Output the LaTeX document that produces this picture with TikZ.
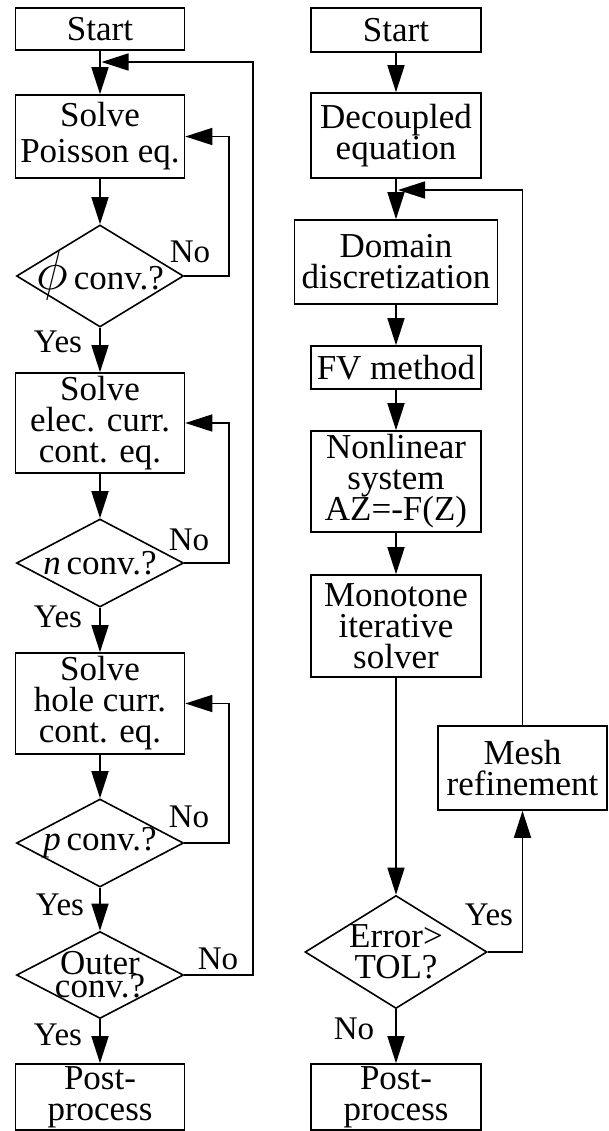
\documentclass[tikz,border=0pt]{standalone}
\usepackage{fontspec}
\setmainfont{Liberation Serif}
\usepackage{tikz}
\usetikzlibrary{arrows.meta,shapes.geometric}
\lineskiplimit=-40pt

\begin{document}
\begin{tikzpicture}[x=1pt,y=-1pt,
 box/.style={rectangle,draw,line width=1.6pt,inner sep=0pt,align=center,font=\fontsize{35}{31}\selectfont},
 test/.style={diamond,draw,line width=1.6pt,inner sep=-14pt,aspect=1.9,align=center,font=\fontsize{35}{31}\selectfont},
 flow/.style={-{Triangle[length=27pt,width=17pt]},line width=1.6pt},
 lbl/.style={inner sep=0pt,font=\fontsize{33}{33}\selectfont}
]
\useasboundingbox (0,0) rectangle (608,1131);
\node[box,minimum width=169pt,minimum height=42pt] (startL) at (100,29) {Start};
\node[box,minimum width=169pt,minimum height=83pt] (poisson) at (100,136.5) {Solve\\[5pt]Poisson eq.};
\node[test,minimum width=167pt,minimum height=102pt] (phi) at (100,276) {\scalebox{2.2}{$\phi$}\,conv.?};
\node[box,minimum width=169pt,minimum height=100pt] (elec) at (100,423) {Solve\\elec. curr.\\cont. eq.};
\node[test,minimum width=167pt,minimum height=88pt] (ndia) at (100,563) {\textit{n}\,conv.?};
\node[box,minimum width=169pt,minimum height=101pt] (hole) at (100,703.5) {Solve\\hole curr.\\cont. eq.};
\node[test,minimum width=167pt,minimum height=88pt] (pdia) at (100,843) {\textit{p}\,conv.?};
\node[test,minimum width=167pt,minimum height=87pt,font=\fontsize{35}{23}\selectfont] (outer) at (100,975) {Outer\\conv.?};
\node[box,minimum width=169pt,minimum height=66pt] (postL) at (100,1097) {Post-\\process};
\coordinate (jL) at (101.5,62);

\node[box,minimum width=170pt,minimum height=44pt] (startR) at (396,30) {Start};
\node[box,minimum width=170pt,minimum height=85pt] (decoup) at (396,135.5) {Decoupled\\equation};
\node[box,minimum width=203pt,minimum height=84pt] (domain) at (396,262) {Domain\\discretization};
\node[box,minimum width=170pt,minimum height=43pt] (fv) at (396,367.5) {FV method};
\node[box,minimum width=170pt,minimum height=101pt] (nonlin) at (396,481.5) {Nonlinear\\system\\AZ=-F(Z)};
\node[box,minimum width=170pt,minimum height=102pt] (mono) at (396,626) {Monotone\\iterative\\solver};
\node[test,minimum width=182pt,minimum height=113pt,aspect=1.6] (err) at (396,952) {Error\textgreater\\TOL?};
\node[box,minimum width=170pt,minimum height=66pt] (postR) at (396,1097) {Post-\\process};
\node[box,minimum width=169pt,minimum height=84pt] (mesh) at (522.5,768) {Mesh\\refinement};
\coordinate (jR) at (398,190);

\draw[flow] (startL) -- (poisson);
\draw[flow] (poisson) -- (phi);
\draw[flow] (phi) -- (elec);
\draw[flow] (elec) -- (ndia);
\draw[flow] (ndia) -- (hole);
\draw[flow] (hole) -- (pdia);
\draw[flow] (pdia) -- (outer);
\draw[flow] (outer) -- (postL);
\draw[flow] (phi.east) -- ++(44.5,0) |- (poisson.east);
\draw[flow] (ndia.east) -- ++(44.5,0) |- (elec.east);
\draw[flow] (pdia.east) -- ++(44.5,0) |- (hole.east);
\draw[flow] (outer.east) -- ++(68.5,0) |- (jL);

\draw[flow] (startR) -- (decoup);
\draw[flow] (decoup) -- (domain);
\draw[flow] (domain) -- (fv);
\draw[flow] (fv) -- (nonlin);
\draw[flow] (nonlin) -- (mono);
\draw[flow] (mono) -- (err);
\draw[flow] (err) -- (postR);
\draw[flow] (err.east) -| (mesh.south);
\draw[flow] (mesh.north) |- (jR);

\node[lbl] (no1) at (190,252) {No};
\node[lbl] (no2) at (189,540) {No};
\node[lbl] (no3) at (189,817) {No};
\node[lbl] (no4) at (218,959) {No};
\node[lbl] (yes1) at (58,342) {Yes};
\node[lbl] (yes2) at (58,617) {Yes};
\node[lbl] (yes3) at (60,905) {Yes};
\node[lbl] (yes4) at (58,1035) {Yes};
\node[lbl] (yes5) at (489,915) {Yes};
\node[lbl] (no5) at (354,1029) {No};
\end{tikzpicture}
\end{document}
